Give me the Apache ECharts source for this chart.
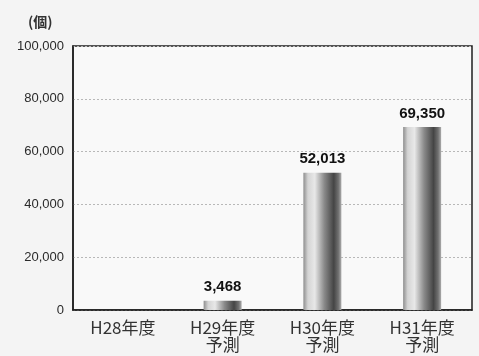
<!DOCTYPE html>
<html>
<head>
<meta charset="utf-8">
<script src="https://cdn.jsdelivr.net/npm/echarts@6/dist/echarts.min.js"></script>
<style>
  html, body { margin: 0; padding: 0; background: #f4f4f4; }
  #chart { width: 479px; height: 356px; }
</style>
</head>
<body>
<div id="chart"></div>
<script>
const categories = ["H28年度", "H29年度\n予測", "H30年度\n予測", "H31年度\n予測"]
const values = [null, 3468, 52013, 69350]
const yTicks = [0, 20000, 40000, 60000, 80000, 100000]

const chart = echarts.init(document.getElementById("chart"))

const barGradient = new echarts.graphic.LinearGradient(0, 0, 1, 0, [
    { offset: 0, color: "#8e8e8e" },
    { offset: 0.12, color: "#d4d4d4" },
    { offset: 0.3, color: "#e8e8e8" },
    { offset: 0.55, color: "#8a8a8a" },
    { offset: 0.8, color: "#454545" },
    { offset: 0.92, color: "#707070" },
    { offset: 1, color: "#acacac" },
])

chart.setOption({
    backgroundColor: "#f4f4f4",
    textStyle: { fontFamily: "Noto Sans CJK JP" },
    grid: {
        left: 73,
        right: 7,
        top: 46,
        bottom: 46,
        show: true,
        backgroundColor: "#f9f9f9",
        borderColor: "#1e1e1e",
        borderWidth: 1.5,
    },
    graphic: [
        {
            type: "text",
            left: 28,
            top: 15,
            style: { text: "(個)", font: "bold 14px 'Noto Sans CJK JP'", fill: "#333" },
        },
    ],
    xAxis: {
        type: "category",
        data: categories,
        axisTick: { show: false },
        axisLine: { lineStyle: { color: "#1e1e1e", width: 1.5 } },
        axisLabel: {
            color: "#333",
            fontSize: 17,
            lineHeight: 17,
            margin: 9,
        },
    },
    yAxis: {
        type: "value",
        min: yTicks[0],
        max: yTicks[yTicks.length - 1],
        interval: 20000,
        axisLine: { show: true, lineStyle: { color: "#1e1e1e", width: 1.5 } },
        axisTick: { show: false },
        axisLabel: {
            color: "#2a2a2a",
            fontSize: 13,
            fontFamily: "Liberation Sans",
            margin: 9,
            formatter: (v) => v.toLocaleString("en-US"),
        },
        splitLine: {
            lineStyle: { color: "#b8b8b8", type: [2, 2], width: 1 },
        },
    },
    series: [
        {
            type: "bar",
            data: values,
            barWidth: 38,
            itemStyle: { color: barGradient },
            label: {
                show: true,
                position: "top",
                distance: 6,
                color: "#111",
                fontWeight: "bold",
                fontSize: 15,
                fontFamily: "Liberation Sans",
                formatter: (p) => (p.value == null ? "" : p.value.toLocaleString("en-US")),
            },
        },
    ],
})
</script>
</body>
</html>
